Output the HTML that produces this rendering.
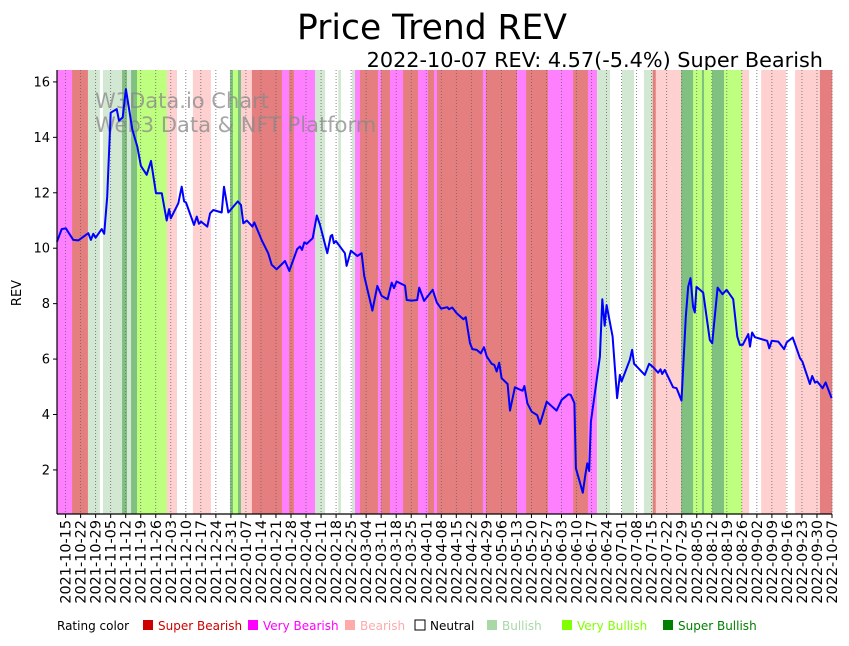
<!DOCTYPE html>
<html><head><meta charset="utf-8"><style>
body{margin:0;background:#fff;}
svg text{font-family:"DejaVu Sans","Liberation Sans",sans-serif;}
</style></head><body>
<svg id="chart" width="849" height="641" viewBox="0 0 849 641" xmlns="http://www.w3.org/2000/svg">
<text x="432" y="39" font-size="34.5" text-anchor="middle">Price Trend REV</text>
<text x="823" y="67" font-size="20.8" text-anchor="end">2022-10-07 REV: 4.57(-5.4%) Super Bearish</text>
<g id="bands"></g>
<g id="grid"></g>
<text x="95" y="108" font-size="21" fill="#888" fill-opacity="0.75">W3Data.io Chart</text>
<text x="95" y="132" font-size="21" fill="#888" fill-opacity="0.75">Web3 Data &amp; NFT Platform</text>
<g id="series"></g>
<g id="axes"></g>
<text transform="translate(21,293) rotate(-90)" font-size="13" text-anchor="middle">REV</text>
<g id="legend"></g>
</svg>
<script>
const startDate = "2021-10-11";
const bandStarts = [0,7,14.4,20,21.4,30.3,32.6,34.5,37.3,51.2,55.9,63.3,71.7,80.6,82,84.3,85.7,90.8,104.8,108.1,110.4,120.2,124.9,131,132.3,137.4,138.8,141.1,149.5,150.9,155.1,161.2,168.2,172.8,175.6,177,198.4,199.8,214.3,218.5,228.7,240.4,247.3,251.5,257.6,263.2,268.8,273.4,277.5,278.9,290.7,296.3,300.4,301.4,305.1,310.7,319.1,322.4,328,339.6,343.8,355.4];
const bandRatings = [1,0,4,3,4,6,4,6,5,2,3,2,3,6,5,6,2,0,1,0,1,4,3,4,3,4,1,0,1,0,1,0,1,0,1,0,1,0,1,0,1,0,1,4,3,4,3,4,0,2,6,5,6,5,6,5,2,3,2,3,2,0];
const bandEnd = 361;
const ratingNames = ["Super Bearish","Very Bearish","Bearish","Neutral","Bullish","Very Bullish","Super Bullish"];
const days = [0,2.2,4.1,7.6,9.9,14.6,15.8,16.9,18.0,20.8,22.0,23.4,25.0,27.8,28.9,30.6,32.1,35.1,37.4,39.1,41.8,43.8,46.1,48.8,51.1,52.2,53.0,56.5,58.1,59.2,60.1,63.8,65.1,66.1,67.1,70.0,71.3,72.8,76.7,77.8,79.8,84.2,85.7,86.8,88.4,91.0,91.9,95.3,98.4,100.0,102.3,106.2,108.2,111.9,113.2,114.1,115.2,116.3,119.1,121.0,122.5,125.9,127.5,128.2,129.0,129.9,134.1,134.9,136.9,139.9,141.9,143.1,146.9,149.2,151.2,154.0,155.9,157.0,158.2,162.1,162.9,165.2,167.8,168.7,171.0,175.0,176.9,178.9,181.8,182.6,184.1,186.2,189.3,190.4,192.4,193.5,195.5,197.4,198.9,200.2,202.5,203.7,204.8,206.0,207.1,209.9,211.0,213.3,215.3,216.9,217.7,219.1,221.1,223.7,225.0,228.1,232.7,235.1,238.2,239.3,241.0,241.7,244.9,246.2,247.0,247.9,248.7,252.9,254.0,255.1,256.0,258.8,260.9,262.2,263.0,266.8,267.9,268.8,273.8,275.8,277.7,280.0,281.1,281.9,283.1,287.0,288.6,290.9,292.9,294.0,295.1,296.3,297.1,297.9,301.0,304.1,305.2,307.7,310.0,311.9,315.0,316.9,318.1,319.4,322.0,322.8,323.8,325.1,330.8,331.8,332.9,336.0,338.7,339.9,342.7,346.1,347.2,350.7,351.8,353.1,354.1,356.6,358.0,360.8];
const values = [10.24,10.69,10.72,10.30,10.28,10.54,10.30,10.52,10.38,10.69,10.52,11.86,14.89,15.02,14.60,14.72,15.74,14.27,13.67,12.97,12.65,13.15,11.98,11.98,11.00,11.41,11.08,11.62,12.22,11.69,11.65,10.84,11.14,10.88,10.96,10.78,11.26,11.38,11.29,12.22,11.29,11.69,11.56,10.90,11.00,10.78,10.93,10.30,9.82,9.40,9.24,9.54,9.18,9.97,10.06,9.94,10.21,10.16,10.36,11.18,10.84,9.82,10.44,10.48,10.18,10.26,9.82,9.36,9.91,9.72,9.82,9.00,7.75,8.64,8.28,8.16,8.76,8.56,8.80,8.65,8.13,8.11,8.13,8.58,8.10,8.50,8.04,7.82,7.87,7.80,7.86,7.65,7.44,7.51,6.57,6.36,6.33,6.21,6.43,6.09,5.83,5.79,5.55,5.87,5.31,5.10,4.14,4.98,4.91,4.86,5.03,4.40,4.10,3.98,3.66,4.46,4.14,4.53,4.73,4.71,4.41,2.06,1.18,1.86,2.24,1.96,3.74,6.09,8.16,7.20,7.95,6.81,4.59,5.43,5.19,5.97,6.33,5.83,5.43,5.83,5.71,5.51,5.63,5.46,5.61,4.98,4.95,4.50,7.53,8.61,8.92,7.89,7.68,8.61,8.40,6.69,6.57,8.58,8.34,8.50,8.16,6.81,6.51,6.51,6.90,6.45,6.96,6.79,6.66,6.39,6.66,6.63,6.36,6.60,6.78,6.03,5.91,5.10,5.39,5.15,5.19,4.95,5.16,4.59];
const yTicks = [2,4,6,8,10,12,14,16];
const NS = "http://www.w3.org/2000/svg";
const L = 57, R = 832, T = 70, B = 514;
const dMax = 361, vMin = 0.41, vMax = 16.43;
const xS = d => L + (d / dMax) * (R - L);
const yS = v => B - (v - vMin) / (vMax - vMin) * (B - T);
const colors = ["#e57f7f","#ff80ff","#ffd0d0","#ffffff","#d3e8d3","#bfff80","#80c080"];
const legendColors = ["#cc0000","#ff00ff","#ffaaaa","#ffffff","#a8d8a8","#80ff00","#008000"];
const textColors = ["#cc0000","#ff00ff","#ffaaaa","#000000","#a8d8a8","#80ff00","#008000"];
function mk(tag, attrs, parent){const e=document.createElementNS(NS,tag);for(const k in attrs)e.setAttribute(k,attrs[k]);parent.appendChild(e);return e;}
const bandsG = document.getElementById("bands");
for (let i = 0; i < bandStarts.length; i++) {
  const s = bandStarts[i], e = i + 1 < bandStarts.length ? bandStarts[i+1] : bandEnd;
  const r = mk("rect", {x: xS(s), y: T, width: xS(e) - xS(s) + 0.3, height: B - T, fill: colors[bandRatings[i]]}, bandsG);
  
  
}
const gridG = document.getElementById("grid");
const axesG = document.getElementById("axes");
const base = new Date(startDate + "T00:00:00Z");
for (let d = 4; d <= 361; d += 7) {
  const x = xS(d);
  const gl = mk("line", {x1: x, y1: T, x2: x, y2: B, stroke: "#666", "stroke-width": 0.8, "stroke-dasharray": "1,2"}, gridG);
  
  
  mk("line", {x1: x, y1: B, x2: x, y2: B + 4, stroke: "#000", "stroke-width": 1}, axesG);
  const dt = new Date(base.getTime() + d * 86400000);
  const lbl = dt.toISOString().slice(0, 10);
  const t = mk("text", {transform: `translate(${x + 5},${B + 6}) rotate(-90)`, "font-size": 14.4, "text-anchor": "end"}, axesG);
  t.textContent = lbl;
  
  
}
yTicks.forEach(v => {
  const y = yS(v);
  mk("line", {x1: L - 4, y1: y, x2: L, y2: y, stroke: "#000", "stroke-width": 1}, axesG);
  const t = mk("text", {x: L - 7, y: y + 4.5, "font-size": 13, "text-anchor": "end"}, axesG);
  t.textContent = v;
  
  
});
const yAxis = mk("line", {x1: L, y1: T, x2: L, y2: B, stroke: "#000", "stroke-width": 1.2}, axesG);


const xAxis = mk("line", {x1: L, y1: B, x2: R, y2: B, stroke: "#000", "stroke-width": 1.2}, axesG);


const pts = days.map((d, i) => xS(d).toFixed(1) + "," + yS(values[i]).toFixed(1)).join(" ");
const line = mk("polyline", {points: pts, fill: "none", stroke: "#0000ff", "stroke-width": 2, "stroke-linejoin": "round"}, document.getElementById("series"));


const legG = document.getElementById("legend");
const lt = mk("text", {x: 57, y: 630, "font-size": 12}, legG);
lt.textContent = "Rating color";


const legX = [142, 247, 344, 414, 486, 561, 662];
ratingNames.forEach((n, i) => {
  const g = mk("g", {}, legG);
  
  
  mk("rect", {x: legX[i] + 1, y: 620, width: 10, height: 10, fill: legendColors[i], stroke: i === 3 ? "#000" : "none", "stroke-width": 1}, g);
  const t = mk("text", {x: legX[i] + 16, y: 630, "font-size": 12, fill: textColors[i]}, g);
  t.textContent = n;
});
</script>
</body></html>
